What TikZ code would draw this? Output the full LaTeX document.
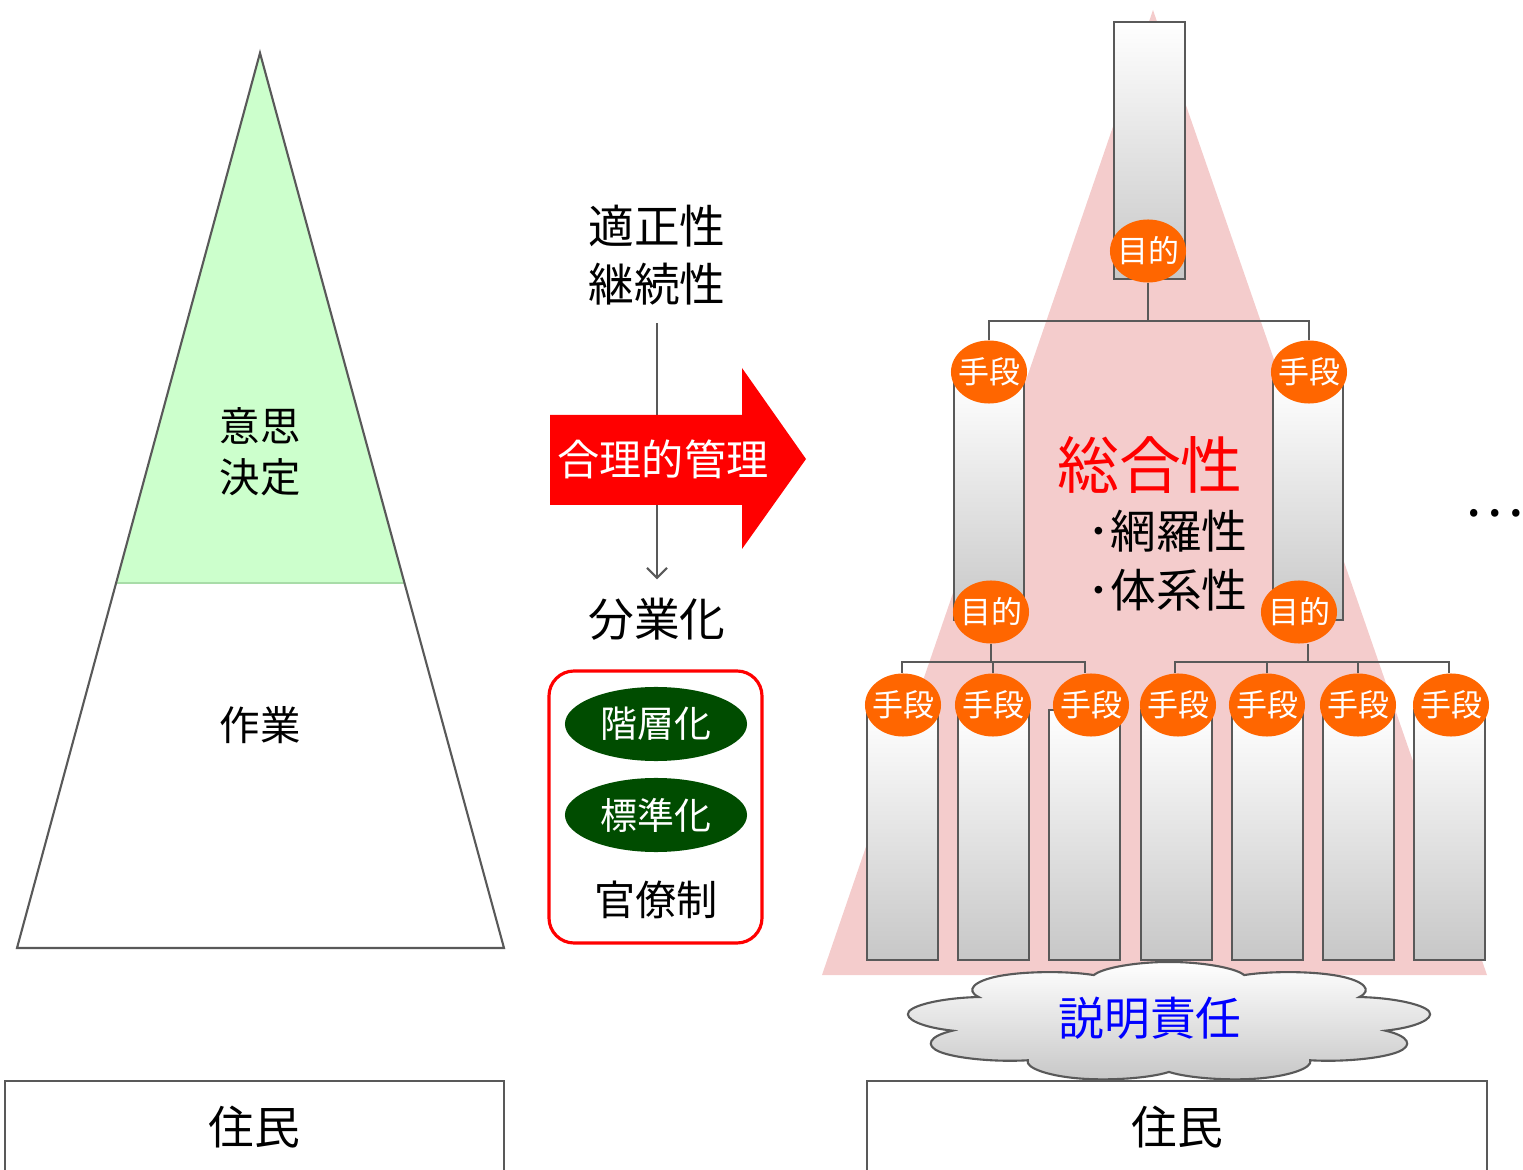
\documentclass[tikz,border=0pt]{standalone}
\usepackage{fontspec}
\newfontfamily\jpfont{Noto Sans CJK JP}
\usepackage{tikz}
\usetikzlibrary{shapes.geometric,shapes.symbols,arrows.meta}
\definecolor{declgreen}{HTML}{CCFFCC}
\definecolor{sepgreen}{HTML}{A8DCA8}
\definecolor{bureaugreen}{HTML}{004C00}
\definecolor{sogopink}{HTML}{F4CCCC}
\definecolor{meansorange}{HTML}{FF6600}
\definecolor{edgegray}{HTML}{595959}

\begin{document}
\begin{tikzpicture}[x=0.01cm,y=-0.01cm,font=\jpfont,
		edge/.style={draw=edgegray,line width=.6pt},
		column/.style={edge,top color=white,bottom color=black!22},
		goalmeans/.style={ellipse,fill=meansorange,text=white,minimum width=7.6mm,minimum height=6.3mm,inner xsep=-.6mm,inner ysep=0pt,font=\jpfont\fontsize{8.8}{10}\selectfont},
		bureau/.style={ellipse,fill=bureaugreen,text=white,minimum width=18.2mm,minimum height=7.4mm,inner sep=0pt,font=\jpfont\fontsize{10.5}{12}\selectfont},
		title/.style={align=center,font=\jpfont\fontsize{13}{16.5}\selectfont}]
		\useasboundingbox (0,0) rectangle (1523,1170);
		% left pyramid
		\fill[declgreen](260,53) -- (404,583) -- (117,583) -- cycle;
		\draw[sepgreen,line width=.6pt](117,583) -- (404,583);
		\draw[edge](260,53) -- (504,948) -- (17,948) -- cycle;
		\node[align=center,font=\jpfont\fontsize{11.5}{14.5}\selectfont] (ishi) at (260,452) {意思\\決定};
		\node[font=\jpfont\fontsize{11.5}{14}\selectfont] (sagyo) at (260,725) {作業};
		\node[edge,minimum width=4.99cm,minimum height=.92cm,title] (res1) at (254.5,1127) {住民};
		% middle
		\node[title] (tekisei) at (657,255) {適正性\\継続性};
		\node[title] (bungyo) at (657,619) {分業化};
		\draw[edge,-{Straight Barb[length=1mm,width=2mm]},shorten <=.6mm,shorten >=.6mm](tekisei.south) -- (bungyo.north);
		\fill[red](550,415) -- (742,415) -- (742,368) -- (806,459) -- (742,549) -- (742,505) -- (550,505) -- cycle;
		\node[text=white,font=\jpfont\fontsize{12}{14}\selectfont] (gori) at (663,459) {合理的管理};
		\draw[red,line width=.9pt,rounded corners=2.5mm](549,671) rectangle (762,943);
		\node[bureau] (kaiso) at (656,724) {階層化};
		\node[bureau] (hyojun) at (656,815) {標準化};
		\node[font=\jpfont\fontsize{11.7}{14}\selectfont] (kanryo) at (656,900) {官僚制};
		% right organisation
		\fill[sogopink](1153,10) -- (1487,975) -- (822,975) -- cycle;
		\draw[column](1114,22) rectangle (1185,279);
		\draw[column](954,380) rectangle (1024,620);
		\draw[column](1273,380) rectangle (1343,620);
		\foreach \x in {867,958,1049,1141,1232,1323,1414}
			\draw[column](\x,710) rectangle ++(71,250);
		\node[goalmeans] (m0) at (1148,251) {目的};
		\node[goalmeans] (s1) at (989,372) {手段};
		\node[goalmeans] (s2) at (1309,372) {手段};
		\node[goalmeans] (m1) at (991,612) {目的};
		\node[goalmeans] (m2) at (1299,612) {目的};
		\node[goalmeans] (t1) at (903,705) {手段};
		\node[goalmeans] (t2) at (993,705) {手段};
		\node[goalmeans] (t3) at (1091,705) {手段};
		\node[goalmeans] (t4) at (1178,705) {手段};
		\node[goalmeans] (t5) at (1267,705) {手段};
		\node[goalmeans] (t6) at (1358,705) {手段};
		\node[goalmeans] (t7) at (1451,705) {手段};
		\coordinate (j0) at (1148,321);
		\coordinate (j1) at (991,662);
		\coordinate (j2) at (1308,662);
		\draw[edge](m0.south) -- (j0) -| (s1.north);
		\draw[edge](j0) -| (s2.north);
		\draw[edge](m1.south) -- (j1) -| ([xshift=-.1mm]t1.north);
		\draw[edge](j1) -| (t2.north);
		\draw[edge](j1) -| ([xshift=-.6mm]t3.north);
		\draw[edge](j2 |- m2.south) -- (j2) -| ([xshift=-.3mm]t4.north);
		\draw[edge](j2) -| (t5.north);
		\draw[edge](j2) -| (t6.north);
		\draw[edge](j2) -| ([xshift=-.2mm]t7.north);
		\node[text=red,font=\jpfont\fontsize{17.6}{20}\selectfont] (sogo) at (1150,465) {総合性};
		\node[anchor=west,inner sep=0pt,align=left,font=\jpfont\fontsize{13}{16.8}\selectfont] (koumoku) at (1087,561) {･網羅性\\･体系性};
		\node[font=\jpfont\fontsize{16}{18}\selectfont] (dots) at (1494,513) {…};
		\begin{scope}[shift={(1169,1022)},xscale=4.4]
			\node[cloud,cloud puffs=9,aspect=1,transform shape,edge,top color=white,bottom color=black!22,minimum width=1.2cm,minimum height=1.2cm] (acc) at (0,0) {};
		\end{scope}
		\node[text=blue,font=\jpfont\fontsize{13}{15}\selectfont] (accT) at (1150,1018) {説明責任};
		\node[edge,minimum width=6.2cm,minimum height=.92cm,title] (res2) at (1177,1127) {住民};
		\end{tikzpicture}
\end{document}
